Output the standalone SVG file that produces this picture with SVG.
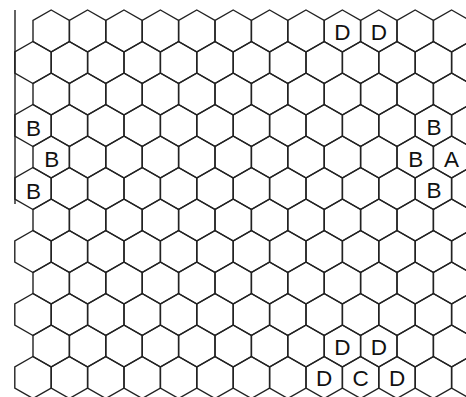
<svg xmlns="http://www.w3.org/2000/svg" xmlns:xlink="http://www.w3.org/1999/xlink" width="466" height="397" viewBox="0 0 466 397">
<style>
.h{fill:none;stroke:#222;stroke-width:1.4;stroke-linejoin:miter}
.b{stroke:#222;stroke-width:1.4;fill:none}
.t{font-family:"Liberation Sans",Arial,sans-serif;font-size:22.5px;fill:#111;text-anchor:middle}
</style>
<defs>
<polygon id="hex" class="h" points="0,-21 18.2,-10.5 18.2,10.5 0,21 -18.2,10.5 -18.2,-10.5"/>
<g id="rowE">
<use xlink:href="#hex" x="51.2"/><use xlink:href="#hex" x="87.6"/><use xlink:href="#hex" x="124"/><use xlink:href="#hex" x="160.4"/><use xlink:href="#hex" x="196.8"/><use xlink:href="#hex" x="233.2"/><use xlink:href="#hex" x="269.6"/><use xlink:href="#hex" x="306"/><use xlink:href="#hex" x="342.4"/><use xlink:href="#hex" x="378.8"/><use xlink:href="#hex" x="415.2"/><use xlink:href="#hex" x="451.6"/>
</g>
<g id="rowO">
<use xlink:href="#hex" x="33"/><use xlink:href="#hex" x="69.4"/><use xlink:href="#hex" x="105.8"/><use xlink:href="#hex" x="142.2"/><use xlink:href="#hex" x="178.6"/><use xlink:href="#hex" x="215"/><use xlink:href="#hex" x="251.4"/><use xlink:href="#hex" x="287.8"/><use xlink:href="#hex" x="324.2"/><use xlink:href="#hex" x="360.6"/><use xlink:href="#hex" x="397"/><use xlink:href="#hex" x="433.4"/><use xlink:href="#hex" x="469.8"/>
</g>
</defs>
<rect width="466" height="397" fill="#fff"/>
<g id="grid">
<use id="row0" xlink:href="#rowE" y="31"/>
<use id="row1" xlink:href="#rowO" y="62.5"/>
<use id="row2" xlink:href="#rowE" y="94"/>
<use id="row3" xlink:href="#rowO" y="125.5"/>
<use id="row4" xlink:href="#rowE" y="157"/>
<use id="row5" xlink:href="#rowO" y="188.5"/>
<use id="row6" xlink:href="#rowE" y="220"/>
<use id="row7" xlink:href="#rowO" y="251.5"/>
<use id="row8" xlink:href="#rowE" y="283"/>
<use id="row9" xlink:href="#rowO" y="314.5"/>
<use id="row10" xlink:href="#rowE" y="346"/>
<use id="row11" xlink:href="#rowO" y="377.5"/>
</g>
<g id="connectors">
<line class="b" x1="15" y1="10" x2="15" y2="204"/>
</g>
<g id="cell-D1"><text class="t" x="342.4" y="40">D</text></g>
<g id="cell-D2"><text class="t" x="378.8" y="40">D</text></g>
<g id="cell-B1"><text class="t" x="33.5" y="136">B</text></g>
<g id="cell-B2"><text class="t" x="51.7" y="167">B</text></g>
<g id="cell-B3"><text class="t" x="33.5" y="198.5">B</text></g>
<g id="cell-B4"><text class="t" x="433.9" y="135">B</text></g>
<g id="cell-B5"><text class="t" x="415.7" y="166.5">B</text></g>
<g id="cell-A"><text class="t" x="451.6" y="166.5">A</text></g>
<g id="cell-B6"><text class="t" x="433.9" y="198">B</text></g>
<g id="cell-D3"><text class="t" x="342.4" y="354.5">D</text></g>
<g id="cell-D4"><text class="t" x="378.8" y="354.5">D</text></g>
<g id="cell-D5"><text class="t" x="324.2" y="385.5">D</text></g>
<g id="cell-C"><text class="t" x="360.6" y="385.5">C</text></g>
<g id="cell-D6"><text class="t" x="397" y="385.5">D</text></g>
</svg>
